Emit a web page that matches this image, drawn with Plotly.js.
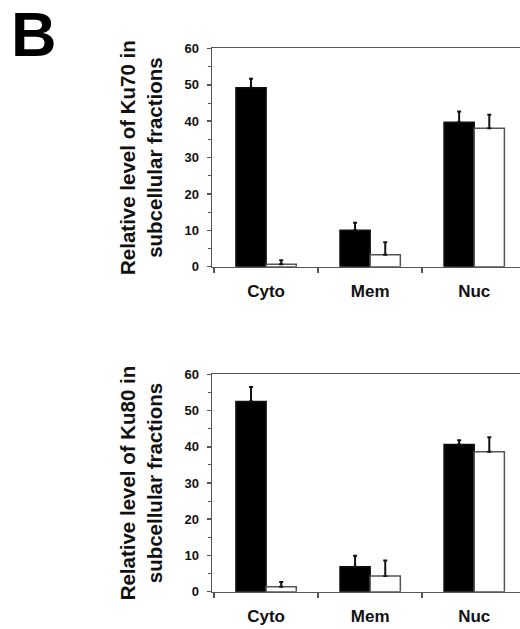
<!DOCTYPE html>
<html>
<head>
<meta charset="utf-8">
<script src="https://cdn.plot.ly/plotly-3.0.1.min.js"></script>
<style>html,body{margin:0;padding:0;background:#fff;overflow:hidden}#chart{width:520px;height:629px}</style>
</head>
<body>
<div id="chart"></div>
<script>
const categories = ["Cyto", "Mem", "Nuc"];
const ku70Black = [49.2, 10.0, 39.7];
const ku70BlackErr = [2.5, 2.1, 3.0];
const ku70White = [0.7, 3.3, 38.1];
const ku70WhiteErr = [1.1, 3.4, 3.7];
const ku80Black = [52.5, 6.9, 40.6];
const ku80BlackErr = [4.0, 3.0, 1.2];
const ku80White = [1.4, 4.3, 38.6];
const ku80WhiteErr = [1.3, 4.3, 4.0];
const panelLetter = "B";
const yTitles = ["Relative level of Ku70 in<br>subcellular fractions", "Relative level of Ku80 in<br>subcellular fractions"];

const FONT = "Liberation Sans, Arial, sans-serif";
const lineCol = "#555";

function barTrace(y, err, fill, xa, ya, name) {
  return {
    type: "bar", x: categories, y: y, xaxis: xa, yaxis: ya, name: name,
    marker: {color: fill, line: {color: fill === "#000" ? "#111" : "#555", width: 1.5}},
    error_y: {type: "data", symmetric: false, array: err, arrayminus: err.map(() => 0), color: "#111", thickness: 2, width: 2},
    showlegend: false, hoverinfo: "skip"
  };
}

const data = [
  barTrace(ku70Black, ku70BlackErr, "#000", "x", "y", "black"),
  barTrace(ku70White, ku70WhiteErr, "#fff", "x", "y", "white"),
  barTrace(ku80Black, ku80BlackErr, "#000", "x2", "y2", "black"),
  barTrace(ku80White, ku80WhiteErr, "#fff", "x2", "y2", "white")
];

function xAxis(anchor) {
  return {
    anchor: anchor, domain: [0, 1], type: "category", range: [-0.52, 2.44],
    showline: true, linecolor: lineCol, linewidth: 1.5, mirror: true,
    ticks: "outside", tickson: "boundaries", ticklen: 5, tickwidth: 1.5, tickcolor: lineCol,
    ticklabelstandoff: 8,
    tickfont: {family: FONT, size: 17, color: "#111", weight: "bold"},
    showgrid: false, zeroline: false, fixedrange: true
  };
}
function yAxis(anchor, domain, title) {
  return {
    anchor: anchor, domain: domain, range: [0, 60], dtick: 10,
    showline: true, linecolor: lineCol, linewidth: 1.5, mirror: false,
    ticks: "outside", ticklen: 4, tickwidth: 1.5, tickcolor: lineCol,
    ticklabelstandoff: 5,
    minor: {dtick: 5, ticks: "outside", ticklen: 3, tickcolor: lineCol, tickwidth: 1},
    tickfont: {family: FONT, size: 13, color: "#111", weight: "bold"},
    title: {text: title, standoff: 16, font: {family: FONT, size: 20.5, color: "#111", weight: "bold"}},
    showgrid: false, zeroline: false, fixedrange: true
  };
}

const layout = {
  width: 520, height: 629,
  margin: {l: 212, r: 0, t: 0, b: 0},
  paper_bgcolor: "#fff", plot_bgcolor: "#fff",
  barmode: "group", bargap: 0.42, bargroupgap: 0,
  xaxis: xAxis("y"),
  yaxis: yAxis("x", [0.576, 0.9229], yTitles[0]),
  xaxis2: xAxis("y2"),
  yaxis2: yAxis("x2", [0.0593, 0.4049], yTitles[1]),
  annotations: [{
    text: panelLetter, xref: "paper", yref: "paper", x: -0.66, y: 1, xanchor: "left", yanchor: "top",
    yshift: 3, showarrow: false, font: {family: FONT, size: 63, color: "#000", weight: "bold"}
  }]
};

Plotly.newPlot("chart", data, layout, {displayModeBar: false, staticPlot: true});
</script>
</body>
</html>
